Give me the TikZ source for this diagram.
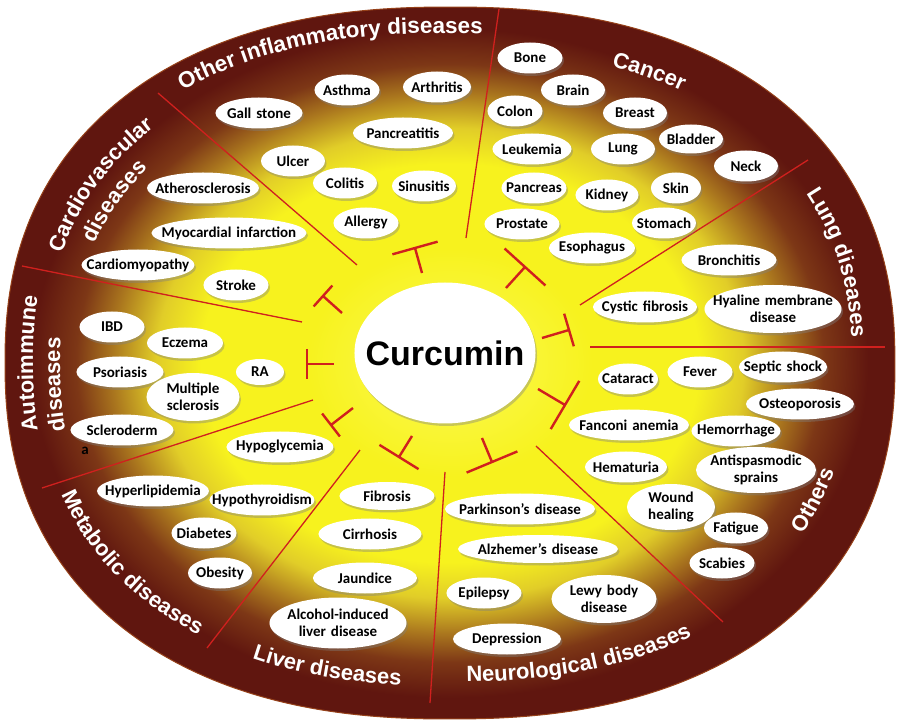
\documentclass[tikz,border=0pt]{standalone}
\usepackage{fontspec}
\setmainfont{Carlito}
\newfontfamily\headfont{Liberation Sans}
\usetikzlibrary{shapes.geometric,shadows,decorations.text,calc}
\definecolor{cylight}{RGB}{252,250,85}
\definecolor{cyyellow}{RGB}{247,242,30}
\definecolor{cymid}{RGB}{225,205,40}
\definecolor{cyolive}{RGB}{170,118,30}
\definecolor{cybrown}{RGB}{125,55,22}
\definecolor{cydark}{RGB}{96,22,15}
\definecolor{cyred}{RGB}{208,32,30}
\definecolor{cyrim}{RGB}{150,65,25}
\pgfdeclareradialshading{turmeric}{\pgfpoint{0bp}{0bp}}{color(0bp)=(cylight); color(8bp)=(cyyellow); color(14bp)=(cyyellow); color(16.5bp)=(cymid); color(19bp)=(cyolive); color(21bp)=(cybrown); color(23.5bp)=(cydark); color(50bp)=(cydark)}
\newcommand\dfont{\fontsize{15}{17}\selectfont\bfseries}
\newcommand\lblfont{\headfont\bfseries\fontsize{22}{22}\selectfont}
\newcommand\lblbig{\headfont\bfseries\fontsize{22.5}{23}\selectfont}
\begin{document}
\begin{tikzpicture}
[x=1pt,y=1pt,samples=30,%
  declare function={supx(\t)=cos(\t)*exp(-0.13*ln(abs(cos(\t))+0.0001));
                    supy(\t)=sin(\t)*exp(-0.13*ln(abs(sin(\t))+0.0001));},%
  dis/.style={ellipse,fill=white,text width=#1pt,align=center,inner xsep={-0.1464*#1pt},%
    inner ysep=0pt,minimum width=#1pt,minimum height=31pt,%
    drop shadow={shadow xshift=1.5pt,shadow yshift=-2.5pt,opacity=.4},font=\dfont},%
  dis2/.style={dis=#1,minimum height=48pt},%
  core/.style={dis=181,minimum height=141pt,font=\headfont\bfseries\fontsize{34}{34}\selectfont},%
  divider/.style={draw=cyred,line width=1.3pt},%
  inhibit/.style={draw=cyred,line width=2.4pt},%
  lbl/.style={decorate,decoration={text along path,text align=center,text color=white,text={|\lblfont|#1}}},%
  lblleft/.style={decorate,decoration={text along path,text color=white,text={|\lblfont|#1}}}]
\useasboundingbox (-450,-362) rectangle (450,363);
% disc
\shadedraw[shading=turmeric,draw=cyrim,line width=1pt]
  plot[smooth,domain=1:361,samples=121] ({445*supx(\x)},{356*supy(\x)}) -- cycle;
% sector lines
\foreach \i/\ax/\ay/\bx/\by in {1/-93/98/-292/270, 2/-148/41/-428/97, 3/-137/-37/-408/-125,
    4/-90/-87/-243/-285, 5/-5/-109/-20/-340, 6/86/-83/273/-259, 7/140/16/435/16,
    8/130/58/358/203, 9/16/125/49/354}
  {\coordinate (din\i) at (\ax,\ay);
   \coordinate (dout\i) at (\bx,\by);
   \draw[divider] (din\i) -- (dout\i);}
% inhibition bars
\foreach \i/\ax/\ay/\bx/\by/\w in {1/-28/90/-35/115/23.5pt, 2/56/75/75/96/27.5pt,
    3/92/25/119/33/17pt, 4/88/-26/115/-42/28pt, 5/32/-75/42/-99/27.5pt,
    6/-38/-73/-51/-94/23pt, 7/-97/-45/-119/-62/14.5pt, 8/-116/-1/-143/-1/15pt,
    9/-108/50/-127/67/14pt}
  {\coordinate (ts\i) at (\ax,\ay);
   \coordinate (te\i) at (\bx,\by);
   \draw[inhibit] (ts\i) -- (te\i) ($(te\i)!\w!90:(ts\i)$) -- ($(te\i)!\w!-90:(ts\i)$);}
% centre
\node (curcumin) at (-5,10) [core] {Curcumin};
% other inflammatory diseases
\node (gall) at (-191,250) [dis=87] {Gall stone};
\node (asthma) at (-103,273) [dis=65] {Asthma};
\node (arthritis) at (-13,276) [dis=68] {Arthritis};
\node (pancreatitis) at (-47,230) [dis=100] {Pancreatitis};
\node (ulcer) at (-157,202) [dis=64] {Ulcer};
\node (colitis) at (-105,180) [dis=64] {Colitis};
\node (sinusitis) at (-26,177) [dis=64] {Sinusitis};
\node (allergy) at (-84,140) [dis=65] {Allergy};
% cardiovascular diseases
\node (athero) at (-247,175) [dis=112] {Atherosclerosis};
\node (myocard) at (-221,130) [dis=155] {Myocardial infarction};
\node (cardiomyo) at (-312,98) [dis=113] {Cardiomyopathy};
\node (stroke) at (-214,78) [dis=65] {Stroke};
% autoimmune diseases
\node (ibd) at (-338,36) [dis=65] {IBD};
\node (eczema) at (-265,20) [dis=76] {Eczema};
\node (psoriasis) at (-330,-9) [dis=87] {Psoriasis};
\node (ms) at (-257,-34) [dis2=93] {Multiple\\sclerosis};
\node (ra) at (-190,-9) [dis=48,minimum height=26pt] {RA};
\node (sclero) at (-328,-67) [dis=103] {Scleroderm};
\node (sclerotail) at (-365,-88) [font=\dfont] {a};
% metabolic diseases
\node (hypogly) at (-170,-84) [dis=107] {Hypoglycemia};
\node (hyperlip) at (-297,-128) [dis=112] {Hyperlipidemia};
\node (hypothyr) at (-188,-137) [dis=105] {Hypothyroidism};
\node (diabetes) at (-246,-170) [dis=65] {Diabetes};
\node (obesity) at (-230,-210) [dis=64] {Obesity};
% liver diseases
\node (fibrosis) at (-63,-133) [dis=95,minimum height=28pt] {Fibrosis};
\node (cirrhosis) at (-80,-171) [dis=103] {Cirrhosis};
\node (jaundice) at (-85,-215) [dis=104] {Jaundice};
\node (alcohol) at (-112,-260) [dis2=137,minimum height=51pt] {Alcohol-induced\\liver disease};
% neurological diseases
\node (parkinson) at (70,-146) [dis=150] {Parkinson’s disease};
\node (alzhemer) at (88,-186) [dis=160,minimum height=28pt] {Alzhemer’s disease};
\node (epilepsy) at (34,-230) [dis=75] {Epilepsy};
\node (lewy) at (154,-236) [dis2=105] {Lewy body\\disease};
\node (depression) at (57,-276) [dis=108] {Depression};
% cancer
\node (bone) at (80,305) [dis=65] {Bone};
\node (brain) at (123,273) [dis=64] {Brain};
\node (colon) at (65,252) [dis=55] {Colon};
\node (breast) at (185,250) [dis=64] {Breast};
\node (bladder) at (241,224) [dis=64,minimum height=29pt] {Bladder};
\node (neck) at (296,197) [dis=64] {Neck};
\node (leukemia) at (82,214) [dis=79] {Leukemia};
\node (lung) at (173,214) [dis=64] {Lung};
\node (pancreas) at (84,175) [dis=65] {Pancreas};
\node (kidney) at (157,168) [dis=63] {Kidney};
\node (skin) at (226,175) [dis=50] {Skin};
\node (prostate) at (72,139) [dis=75] {Prostate};
\node (stomach) at (214,140) [dis=64] {Stomach};
\node (esophagus) at (142,115) [dis=86] {Esophagus};
% lung diseases
\node (bronchitis) at (279,103) [dis=95] {Bronchitis};
\node (cystic) at (195,56) [dis=104] {Cystic fibrosis};
\node (hyaline) at (323,54) [dis2=137] {Hyaline membrane\\disease};
% others
\node (cataract) at (178,-16) [dis=60] {Cataract};
\node (fever) at (250,-9) [dis=65] {Fever};
\node (septic) at (333,-4) [dis=88] {Septic shock};
\node (osteo) at (350,-41) [dis=108] {Osteoporosis};
\node (fanconi) at (179,-62) [dis=120] {Fanconi anemia};
\node (hemorrhage) at (286,-68) [dis=89] {Hemorrhage};
\node (hematuria) at (176,-104) [dis=82] {Hematuria};
\node (antispas) at (306,-107) [dis2=120,minimum height=46pt] {Antispasmodic\\sprains};
\node (wound) at (221,-144) [dis2=88,minimum height=46pt] {Wound\\healing};
\node (fatigue) at (286,-165) [dis=64] {Fatigue};
\node (scabies) at (272,-200) [dis=65] {Scabies};
% sector labels
\path[lbl={|\lblbig|Other inflammatory diseases}] plot[domain=144:74] ({419*supx(\x)},{330*supy(\x)});
\path[lbl={Cancer}] plot[domain=78:48] ({403*supx(\x)},{314*supy(\x)});
\path[lbl={Lung diseases}] plot[domain=42:-6] ({402*supx(\x)},{313*supy(\x)});
\path[lbl={Others}] plot[domain=-40:-8] ({400*supx(\x)},{311*supy(\x)});
\path[lbl={Neurological diseases}] plot[domain=270:306] ({408*supx(\x)},{319*supy(\x)});
\path[lbl={Liver diseases}] plot[domain=235:271] ({412*supx(\x)},{323*supy(\x)});
\path[lbl={Metabolic diseases}] plot[domain=198:238] ({412*supx(\x)},{322*supy(\x)});
\path[lblleft={Autoimmune}] plot[domain=189.3:150] ({417*supx(\x)},{328*supy(\x)});
\path[lblleft={diseases}] plot[domain=190.3:150] ({390*supx(\x)},{301*supy(\x)});
\path[lbl={Cardiovascular}] plot[domain=180:116] ({404*supx(\x)},{315*supy(\x)});
\path[lbl={diseases}] plot[domain=181:117] ({378*supx(\x)},{289*supy(\x)});
\end{tikzpicture}
\end{document}
